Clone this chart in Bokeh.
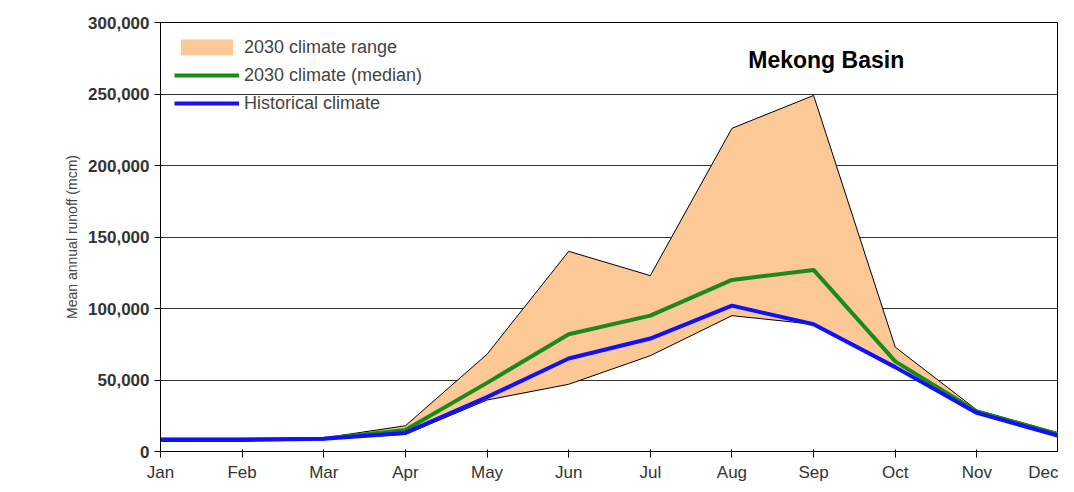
from bokeh.plotting import figure
from bokeh.models import ColumnDataSource, FixedTicker, NumeralTickFormatter, Legend, LegendItem, Label
from bokeh.embed import file_html
from bokeh.resources import INLINE

months = ["Jan", "Feb", "Mar", "Apr", "May", "Jun", "Jul", "Aug", "Sep", "Oct", "Nov", "Dec"]
range_upper = [9000, 9000, 9500, 18000, 68000, 140000, 123000, 226000, 249000, 73000, 29000, 13000]
range_lower = [7000, 7500, 8500, 12000, 36000, 47000, 67000, 95000, 89000, 58000, 27000, 11000]
median_2030 = [8500, 8500, 9000, 15000, 48000, 82000, 95000, 120000, 127000, 63000, 28000, 12000]
historical = [8000, 8000, 9000, 13000, 38000, 65000, 79000, 102000, 89000, 59000, 27000, 11000]

x = list(range(len(months)))
src = ColumnDataSource(dict(x=x, up=range_upper, lo=range_lower, med=median_2030, hist=historical))

p = figure(width=1058, height=484, x_range=(0, 11), y_range=(0, 300000),
           output_backend="svg", toolbar_location=None,
           min_border_left=160, min_border_right=0, min_border_top=22, min_border_bottom=29)
p.outline_line_color = "black"
p.xgrid.grid_line_color = None
p.ygrid.grid_line_color = "black"
p.ygrid.grid_line_alpha = 0.8

area = p.varea(x="x", y1="lo", y2="up", source=src, fill_color="#fbc896")
l_up = p.line(x="x", y="up", source=src, color="black", line_width=1)
l_lo = p.line(x="x", y="lo", source=src, color="black", line_width=1)
med = p.line(x="x", y="med", source=src, color="#1a8a1a", line_width=4)
hist = p.line(x="x", y="hist", source=src, color="#1010ff", line_width=4)

p.xaxis.ticker = FixedTicker(ticks=x)
p.xaxis.major_label_overrides = {i: m for i, m in enumerate(months)}
p.yaxis.ticker = FixedTicker(ticks=list(range(0, 300001, 50000)))
p.yaxis.formatter = NumeralTickFormatter(format="0,0")
for ax in (p.xaxis[0], p.yaxis[0]):
    ax.major_label_text_font = "Liberation Sans"
    ax.major_label_text_font_size = "17px"
    ax.major_label_text_color = "#333333"
    ax.axis_line_color = "black"
    ax.major_tick_line_color = "black"
    ax.minor_tick_line_color = None
p.yaxis.major_label_text_font_style = "bold"
p.yaxis.axis_label = "Mean annual runoff (mcm)"
p.yaxis.axis_label_text_font = "Liberation Sans"
p.yaxis.axis_label_text_font_style = "normal"
p.yaxis.axis_label_text_font_size = "14px"

legend = Legend(items=[
    LegendItem(label="2030 climate range", renderers=[area]),
    LegendItem(label="2030 climate (median)", renderers=[med]),
    LegendItem(label="Historical climate", renderers=[hist]),
], location="top_left", margin=14, background_fill_alpha=0, border_line_color=None,
    label_text_font="Liberation Sans", label_text_font_size="18px",
    glyph_width=65, glyph_height=20, spacing=6, label_height=22, padding=8)
p.add_layout(legend, "center")

p.add_layout(Label(x=7.2, y=265000, text="Mekong Basin", text_font="Liberation Sans",
                   text_font_style="bold", text_font_size="23px", text_color="black"))

open("out.html", "w").write(file_html(p, INLINE))
